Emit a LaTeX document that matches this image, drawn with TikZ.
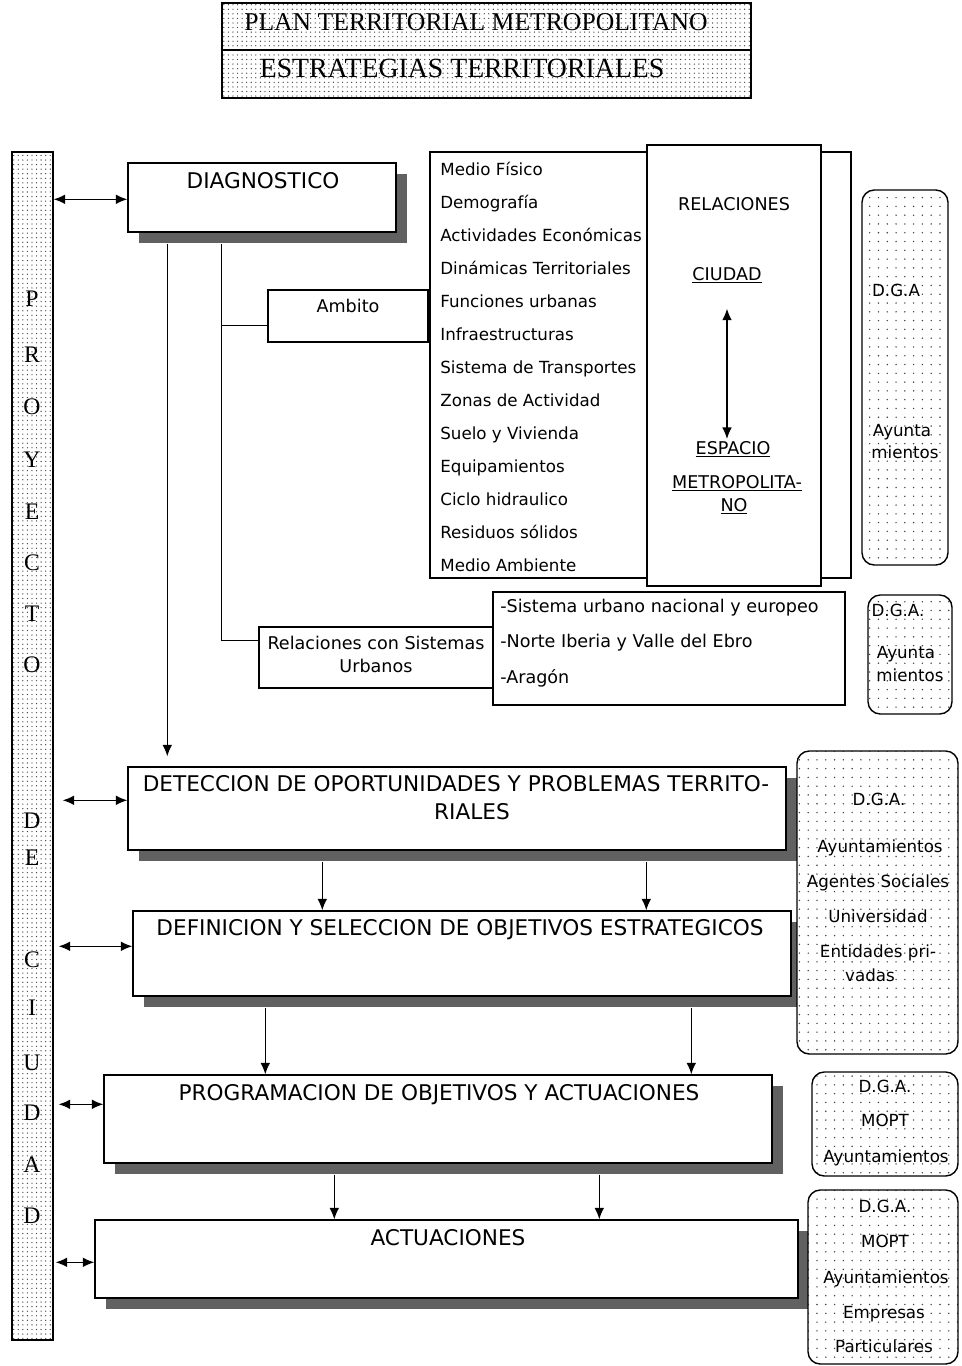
\documentclass[tikz,border=0pt]{standalone}
\usepackage{fontspec}
\setmainfont{Liberation Serif}
\setsansfont{DejaVu Sans}
\usetikzlibrary{arrows.meta,patterns.meta,fit,shadows,calc}
\begin{document}
\begin{tikzpicture}[x=0.02cm,y=-0.02cm,
  >={Latex[length=6.5pt,width=5.5pt]},
  frame/.style={draw,line width=0.8pt,fill=white,inner sep=0pt},
  sh/.style={drop shadow={shadow xshift=6.3pt,shadow yshift=-6.3pt,fill=black!62,opacity=1}},
  finedots/.style={preaction={fill=white},pattern={Dots[distance=2.6pt,radius=0.38pt]},pattern color=black!75},
  coarsedots/.style={preaction={fill=white},pattern={Dots[distance=5pt,radius=0.45pt]},pattern color=black!75},
  dotframe/.style={draw,line width=0.8pt,inner sep=0pt,finedots},
  rbox/.style={draw,line width=0.8pt,rounded corners=7pt,inner sep=0pt,coarsedots},
  conn/.style={line width=0.7pt},
  head/.style={font=\sffamily\fontsize{12.3}{14}\selectfont,anchor=mid,inner sep=0pt},
  item/.style={font=\sffamily\fontsize{9.5}{11}\selectfont,anchor=mid west,inner sep=0pt},
  itemb/.style={font=\sffamily\fontsize{10}{12}\selectfont,anchor=mid west,inner sep=0pt},
  midten/.style={font=\sffamily\fontsize{10}{12}\selectfont,anchor=mid,inner sep=0pt},
  side/.style={font=\sffamily\fontsize{9.5}{11}\selectfont,anchor=mid,inner sep=0pt},
  barl/.style={font=\rmfamily\fontsize{13.5}{15}\selectfont,anchor=mid,inner sep=0pt},
  ttl/.style={font=\rmfamily\fontsize{14.6}{17}\selectfont,anchor=mid,inner sep=0pt},
]
\useasboundingbox (0,0) rectangle (961,1366);

% ---------- title ----------
\node[dotframe,fit={(222,3)(751,50)}] (tA) {};
\node[dotframe,fit={(222,50)(751,98)}] (tB) {};
\node[ttl] (tAt) at (476,26) {PLAN TERRITORIAL METROPOLITANO};
\node[ttl,font=\rmfamily\fontsize{15.8}{17}\selectfont] (tBt) at (462,73) {ESTRATEGIAS TERRITORIALES};

% ---------- left bar ----------
\node[dotframe,fit={(12,152)(53,1340)}] (bar) {};
\foreach \l/\y [count=\i] in {P/302,R/358,O/410,Y/463,E/515,C/566,T/617,O/668,D/824,E/861,C/963,I/1011,U/1066,D/1116,A/1168,D/1219}
  \node[barl] (bl\i) at (32,\y) {\l};

% ---------- diagnostico ----------
\node[frame,sh,fit={(128,163)(396,232)}] (diag) {};
\node[head] (diagt) at (263,184) {DIAGNOSTICO};

% ---------- ambito list ----------
\node[frame,fit={(430,152)(851,578)}] (lst) {};
\foreach \t/\y [count=\i] in {Medio Físico/171,Demografía/204,Actividades Económicas/237,Dinámicas Territoriales/270,Funciones urbanas/303,Infraestructuras/336,Sistema de Transportes/369,Zonas de Actividad/402,Suelo y Vivienda/435,Equipamientos/468,Ciclo hidraulico/501,Residuos sólidos/534,Medio Ambiente/567}
  \node[item] (li\i) at (440,\y) {\t};

\node[frame,fit={(647,145)(821,586)}] (relbox) {};
\node[midten] (relt) at (734,206) {RELACIONES};
\node[midten] (ciudad) at (727,276) {\underline{CIUDAD}};
\node[midten] (espacio) at (733,450) {\underline{ESPACIO}};
\node[midten] (metro) at (737,484) {\underline{METROPOLITA-}};
\node[midten] (nopart) at (734,507) {\underline{NO}};
\draw[conn,<->,shorten <=14pt,shorten >=1pt] (ciudad.south) -- (ciudad.south |- espacio.north);

\node[frame,fit={(268,290)(428,342)}] (amb) {};
\node[midten] (ambt) at (348,308) {Ambito};

\node[rbox,fit={(862,190)(948,565)}] (g1) {};
\node[side] (g1a) at (896,292) {D.G.A};
\node[side] (g1b) at (902,432) {Ayunta};
\node[side] (g1c) at (905,454) {mientos};

% ---------- relaciones con sistemas ----------
\node[frame,fit={(259,627)(493,688)}] (rel) {};
\node[midten] (relA) at (376,645) {Relaciones con Sistemas};
\node[midten] (relB) at (376,668) {Urbanos};
\node[frame,fit={(493,592)(845,705)}] (lst2) {};
\node[itemb] (s1) at (500,608) {-Sistema urbano nacional y europeo};
\node[itemb] (s2) at (500,643) {-Norte Iberia y Valle del Ebro};
\node[itemb] (s3) at (500,679) {-Aragón};

\node[rbox,fit={(868,595)(952,714)}] (g2) {};
\node[side] (g2a) at (898,612) {D.G.A.};
\node[side] (g2b) at (906,654) {Ayunta};
\node[side] (g2c) at (910,677) {mientos};

% ---------- main process boxes ----------
\node[frame,sh,fit={(128,767)(786,850)}] (det) {};
\node[head] (dett) at (456,787) {DETECCION DE OPORTUNIDADES Y PROBLEMAS TERRITO-};
\node[head] (dett2) at (472,815) {RIALES};
\node[frame,sh,fit={(133,911)(791,996)}] (def) {};
\node[head] (deft) at (460,931) {DEFINICION Y SELECCION DE OBJETIVOS ESTRATEGICOS};
\node[frame,sh,fit={(104,1075)(772,1163)}] (prog) {};
\node[head] (progt) at (439,1096) {PROGRAMACION DE OBJETIVOS Y ACTUACIONES};
\node[frame,sh,fit={(95,1220)(798,1298)}] (act) {};
\node[head] (actt) at (448,1241) {ACTUACIONES};

% ---------- right rounded boxes ----------
\node[rbox,fit={(797,751)(958,1054)}] (g3) {};
\node[side] (g3a) at (879,801) {D.G.A.};
\node[side] (g3b) at (880,848) {Ayuntamientos};
\node[side] (g3c) at (878,883) {Agentes Sociales};
\node[side] (g3d) at (878,918) {Universidad};
\node[side] (g3e) at (878,953) {Entidades pri-};
\node[side] (g3f) at (870,977) {vadas};

\node[rbox,fit={(812,1072)(958,1176)}] (g4) {};
\node[side] (g4a) at (885,1088) {D.G.A.};
\node[side] (g4b) at (885,1122) {MOPT};
\node[side] (g4c) at (886,1158) {Ayuntamientos};

\node[rbox,fit={(808,1190)(958,1364)}] (g5) {};
\node[side] (g5a) at (885,1208) {D.G.A.};
\node[side] (g5b) at (885,1243) {MOPT};
\node[side] (g5c) at (886,1279) {Ayuntamientos};
\node[side] (g5d) at (884,1314) {Empresas};
\node[side] (g5e) at (884,1348) {Particulares};

% ---------- connectors ----------
\coordinate (trunk) at ($(diag.south west)+(94,11)$);
\coordinate (ambc) at ($(amb.south west)+(0,-17)$);
\coordinate (relc) at ($(rel.north west)+(0,14)$);
\draw[conn] (trunk) |- (relc);
\draw[conn] (trunk |- ambc) -- (ambc);
\draw[conn,->] ($(diag.south west)+(40,11)$) -- ($(det.north west)+(40,-10)$);

% double arrows to the bar
\draw[conn,<->] ($(bar.east |- diag.north west)+(0,37)$) -- ($(diag.north west)+(0,37)$);
\draw[conn,<->] ($(bar.east |- det.north west)+(9,34)$) -- ($(det.north west)+(0,34)$);
\draw[conn,<->] ($(bar.east |- def.north west)+(5,36)$) -- ($(def.north west)+(0,36)$);
\draw[conn,<->] ($(bar.east |- prog.north west)+(5,30)$) -- ($(prog.north west)+(0,30)$);
\draw[conn,<->] ($(bar.east |- act.north west)+(2,43)$) -- ($(act.north west)+(0,43)$);

% downward arrows between stages
\draw[conn,->] ($(det.south west)+(195,11)$) -- ($(def.north west)+(190,0)$);
\draw[conn,->] ($(det.south west)+(519,11)$) -- ($(def.north west)+(514,0)$);
\draw[conn,->] ($(def.south west)+(133,11)$) -- ($(prog.north west)+(162,0)$);
\draw[conn,->] ($(def.south west)+(559,11)$) -- ($(prog.north west)+(588,0)$);
\draw[conn,->] ($(prog.south west)+(231,11)$) -- ($(act.north west)+(240,0)$);
\draw[conn,->] ($(prog.south west)+(496,11)$) -- ($(act.north west)+(505,0)$);
\end{tikzpicture}
\end{document}
